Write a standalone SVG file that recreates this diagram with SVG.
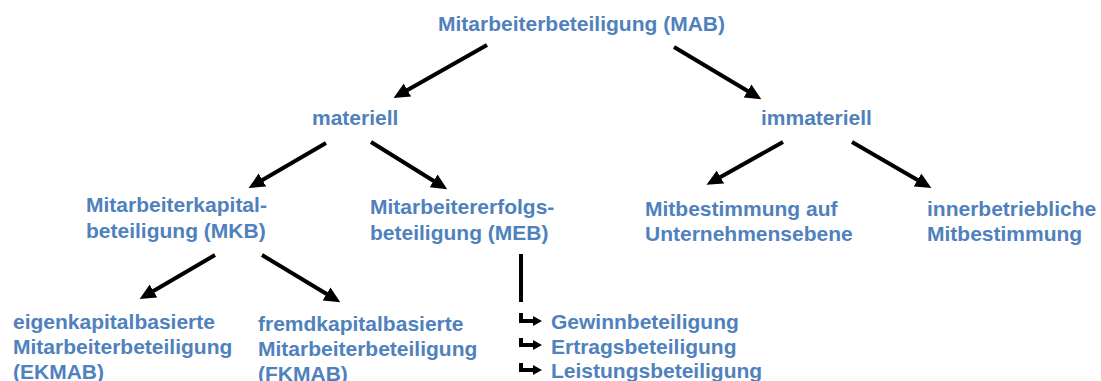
<svg xmlns="http://www.w3.org/2000/svg" width="1101" height="381" viewBox="0 0 1101 381">
<defs>
<style>
text{font-family:"Liberation Sans",Arial,sans-serif;font-weight:bold;font-size:21px;fill:#4F81BD}
.c{stroke:#000;stroke-width:4;fill:none}
.a{marker-end:url(#ah)}
.h{fill:#000}
</style>
<marker id="ah" markerUnits="userSpaceOnUse" markerWidth="17" markerHeight="17" viewBox="0 0 17 17" refX="4" refY="8.5" orient="auto">
<path d="M0,1 L16,8.5 L0,16 Z" fill="#000"/>
</marker>
</defs>
<rect width="1101" height="381" fill="#fff"/>
<g id="connectors">
<line class="c a" x1="487" y1="45" x2="404" y2="92"/>
<line class="c a" x1="674" y1="47" x2="751" y2="93"/>
<line class="c a" x1="326" y1="143" x2="259" y2="182"/>
<line class="c a" x1="371" y1="142" x2="437" y2="183"/>
<line class="c a" x1="783" y1="142" x2="717" y2="179"/>
<line class="c a" x1="852" y1="142" x2="921" y2="182"/>
<line class="c a" x1="215" y1="255" x2="150" y2="293"/>
<line class="c a" x1="262" y1="255" x2="330" y2="296"/>
<line class="c" x1="521" y1="254" x2="521" y2="302"/>
<path class="c" d="M521,313 V321 H534"/>
<polygon class="h" points="533,316 542,321 533,326"/>
<path class="c" d="M521,338 V345 H534"/>
<polygon class="h" points="533,340 542,345 533,350"/>
<path class="c" d="M521,363 V370 H534"/>
<polygon class="h" points="533,365 542,370 533,375"/>
</g>
<g id="mab"><text x="438" y="31">Mitarbeiterbeteiligung (MAB)</text></g>
<g id="materiell"><text x="312" y="125">materiell</text></g>
<g id="immateriell"><text x="761" y="125">immateriell</text></g>
<g id="mkb"><text x="86" y="212">Mitarbeiterkapital-</text><text x="86" y="238">beteiligung (MKB)</text></g>
<g id="meb"><text x="370" y="214">Mitarbeitererfolgs-</text><text x="370" y="240">beteiligung (MEB)</text></g>
<g id="mitbestimmung-ue"><text x="645" y="216">Mitbestimmung auf</text><text x="645" y="241">Unternehmensebene</text></g>
<g id="mitbestimmung-ib"><text x="927" y="216">innerbetriebliche</text><text x="927" y="241">Mitbestimmung</text></g>
<g id="ekmab"><text x="13" y="329">eigenkapitalbasierte</text><text x="13" y="354">Mitarbeiterbeteiligung</text><text x="13" y="379">(EKMAB)</text></g>
<g id="fkmab"><text x="258" y="331">fremdkapitalbasierte</text><text x="258" y="356">Mitarbeiterbeteiligung</text><text x="258" y="381">(FKMAB)</text></g>
<g id="gewinn"><text x="551" y="329">Gewinnbeteiligung</text></g>
<g id="ertrag"><text x="551" y="354">Ertragsbeteiligung</text></g>
<g id="leistung"><text x="551" y="378">Leistungsbeteiligung</text></g>
</svg>
